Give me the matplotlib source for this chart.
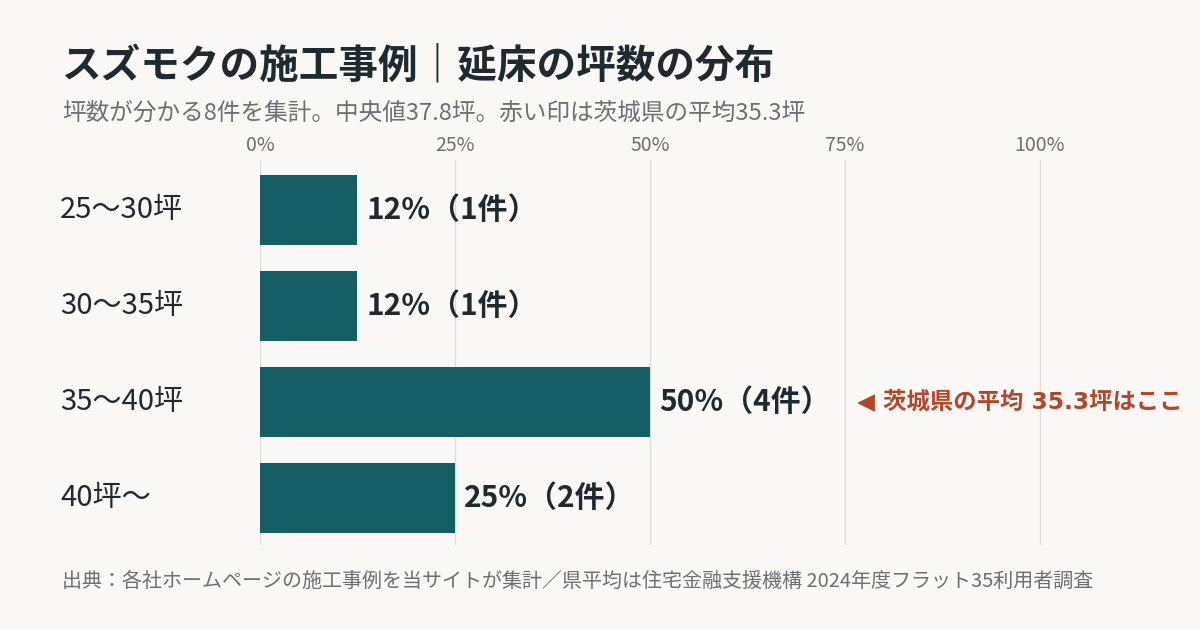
import matplotlib
matplotlib.use("Agg")
import matplotlib.pyplot as plt

plt.rcParams['font.family'] = ['Noto Sans CJK JP', 'DejaVu Sans']

categories = ["25〜30坪", "30〜35坪", "35〜40坪", "40坪〜"]
shares = [12.5, 12.5, 50, 25]
counts = [1, 1, 4, 2]
labels = ["12%（1件）", "12%（1件）", "50%（4件）", "25%（2件）"]
ticks = [0, 25, 50, 75, 100]

bg = "#f9f8f5"
bar_c = "#155e63"
dark = "#1f2a30"
gray = "#6b7075"
red = "#b5452a"

fig = plt.figure(figsize=(12, 6.3), dpi=100, facecolor=bg)
ax = fig.add_axes([260/1200, 1-545/630, 781/1200, 385/630])
ax.set_facecolor(bg)
ax.set_xlim(0, 100.13)
ax.set_ylim(3.49, -0.52)
for t in ticks:
    ax.axvline(t, color="#dedcd8", lw=1, zorder=0)
ax.barh(range(len(categories)), shares, height=0.73, color=bar_c, zorder=2)
for i, (v, l) in enumerate(zip(shares, labels)):
    ax.text(v + 1.2, i, l, va="center", ha="left", fontsize=21.5, fontweight="bold", color=dark)
    ax.text(-25.6, i, categories[i], va="center", ha="left", fontsize=21, color=dark)
ax.text(76.5, 2, "◀ 茨城県の平均 35.3坪はここ", va="center", ha="left", fontsize=16.8,
        fontweight="bold", color=red, family=['DejaVu Sans', 'Noto Sans CJK JP'])
ax.set_xticks(ticks)
ax.set_xticklabels([f"{t}%" for t in ticks], color=gray, fontsize=14)
ax.xaxis.tick_top()
ax.tick_params(axis='x', length=0, pad=3)
ax.set_yticks([])
for s in ax.spines.values():
    s.set_visible(False)

fig.text(62/1200, 1-66/630, "スズモクの施工事例｜延床の坪数の分布", fontsize=28.5, fontweight="bold",
         color=dark, va="center")
fig.text(62/1200, 1-113/630, "坪数が分かる8件を集計。中央値37.8坪。赤い印は茨城県の平均35.3坪", fontsize=17,
         color=gray, va="center")
fig.text(62/1200, 1-581/630, "出典：各社ホームページの施工事例を当サイトが集計／県平均は住宅金融支援機構 2024年度フラット35利用者調査",
         fontsize=14.4, color=gray, va="center")
fig.savefig("out.png", dpi=100, facecolor=bg)
